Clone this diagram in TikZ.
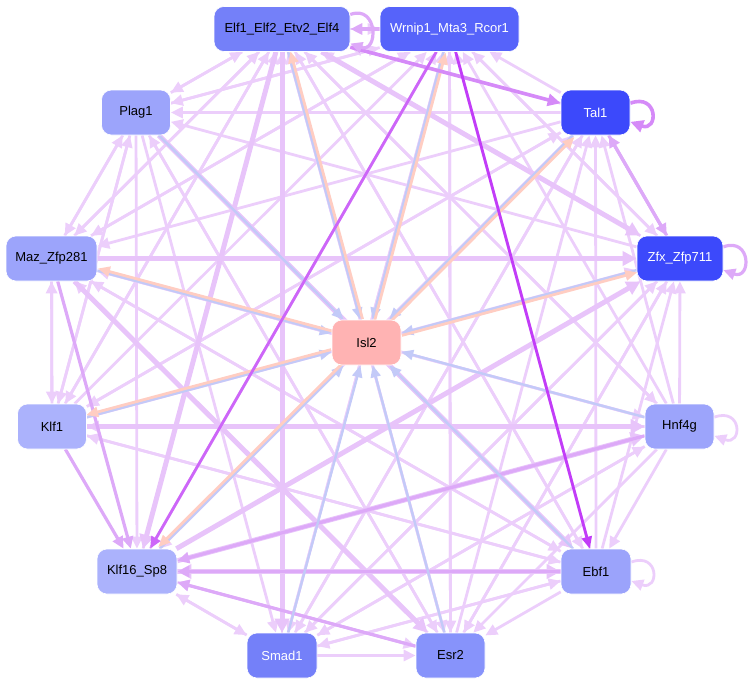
\documentclass[tikz,border=0pt]{standalone}
\usepackage{fontspec}
\setmainfont{Liberation Sans}
\usepackage{xcolor}
\definecolor{geneDeep}{HTML}{3C49FB}
\definecolor{geneDark}{HTML}{5663FA}
\definecolor{geneMid}{HTML}{7480F9}
\definecolor{geneSoft}{HTML}{8793FB}
\definecolor{genePale}{HTML}{9CA4FB}
\definecolor{geneHub}{HTML}{FFB3B3}
\definecolor{linkLite}{HTML}{ECCEFB}
\definecolor{linkWide}{HTML}{E8C4FA}
\definecolor{linkMid}{HTML}{DDA9F8}
\definecolor{linkDeep}{HTML}{D58AF8}
\definecolor{linkStrong}{HTML}{C23CF8}
\definecolor{linkViolet}{HTML}{CD66F8}
\definecolor{linkPeach}{HTML}{FFCDC2}
\definecolor{linkBlue}{HTML}{C3CAF8}
\usetikzlibrary{arrows.meta,positioning,backgrounds}
\tikzset{
    gene/.style={
        rectangle,
        rounded corners=10pt,
        minimum height=45pt,
        minimum width=69pt,
        inner sep=0pt,
        draw=white,
        line width=0.6pt,
        fill=genePale,
        font=\fontsize{13}{15}\selectfont
    },
    dark/.style={text=white},
    lite/.style={
        draw=linkLite,
        line width=2.8pt,
        -{Triangle[length=12pt,width=11pt]}
    },
    wide/.style={
        draw=linkWide,
        line width=5pt,
        -{Triangle[length=14pt,width=14pt]}
    },
    mid/.style={
        draw=linkMid,
        line width=3.2pt,
        -{Triangle[length=12pt,width=11pt]}
    },
    deep/.style={
        draw=linkDeep,
        line width=3.6pt,
        -{Triangle[length=13pt,width=12pt]}
    },
    strong/.style={
        draw=#1,
        line width=2.8pt,
        -{Triangle[length=12pt,width=10pt]}
    },
    peach/.style={
        draw=linkPeach,
        line width=2.8pt,
        -{Triangle[length=12pt,width=10pt]},
        transform canvas={shift={#1}}
    },
    bluish/.style={
        draw=linkBlue,
        line width=2.4pt,
        -{Triangle[length=12pt,width=10pt]}
    }
}

\begin{document}
\begin{tikzpicture}[x=1pt, y=-1pt]
    \useasboundingbox (0,0) rectangle (753,686);

    % genes on the ring
    \node[gene, fill=geneMid, minimum width=136pt] (elf) at (282,29) {Elf1\_Elf2\_Etv2\_Elf4};
    \node[gene, dark, fill=geneDark, minimum width=139pt] (wrn) at (449.5,29) {Wrnip1\_Mta3\_Rcor1};
    \node[gene] (plag) at (136,112.5) {Plag1};
    \node[gene, dark, fill=geneDeep] (tal) at (595.5,112.5) {Tal1};
    \node[gene, minimum width=91pt] (maz) at (51.5,258.5) {Maz\_Zfp281};
    \node[gene, dark, fill=geneDeep, minimum width=86pt] (zfx) at (680,258.5) {Zfx\_Zfp711};
    \node[gene, fill=geneHub] (isl) at (366.5,342.5) {Isl2};
    \node[gene, fill=genePale!85!white] (klf) at (52,426.5) {Klf1};
    \node[gene] (hnf) at (679.5,426.5) {Hnf4g};
    \node[gene, fill=genePale!85!white, minimum width=80pt] (klfsp) at (137,571.5) {Klf16\_Sp8};
    \node[gene, fill=genePale!95!geneSoft, minimum width=70pt] (ebf) at (596,571.5) {Ebf1};
    \node[gene, dark, fill=geneMid, minimum width=70pt] (smad) at (282,655.5) {Smad1};
    \node[gene, fill=geneSoft] (esr) at (450.5,655.5) {Esr2};

    \begin{scope}[on background layer]
    % thin links
    \foreach \dst in {wrn,plag,maz,klf,smad,esr,ebf,hnf}
        \draw[lite] (elf) -- (\dst);
    \foreach \dst in {maz,esr,smad,plag,zfx}
        \draw[lite] (wrn) -- (\dst);
    \foreach \dst in {wrn,elf,plag,klfsp,smad,maz,klf}
        \draw[lite] (tal) -- (\dst);
    \foreach \dst in {elf,wrn,smad,esr,plag}
        \draw[lite] (zfx) -- (\dst);
    \foreach \dst in {zfx,ebf,klf,maz,elf,wrn,tal,esr,smad}
        \draw[lite] (hnf) -- (\dst);
    \foreach \dst in {esr,smad,tal,zfx,wrn,elf,klf,maz}
        \draw[lite] (ebf) -- (\dst);
    \foreach \dst in {tal,zfx,wrn,elf,klfsp,plag,maz}
        \draw[lite] (esr) -- (\dst);
    \foreach \dst in {esr,klfsp,elf,wrn,zfx,tal,ebf,hnf}
        \draw[lite] (smad) -- (\dst);
    \foreach \dst in {smad,esr,tal,elf,wrn}
        \draw[lite] (klfsp) -- (\dst);
    \foreach \dst in {maz,ebf,elf,wrn,plag,tal,zfx}
        \draw[lite] (klf) -- (\dst);
    \foreach \dst in {plag,klf,elf,wrn,hnf,ebf}
        \draw[lite] (maz) -- (\dst);
    \foreach \dst in {elf,wrn,klfsp,esr,maz,klf,smad}
        \draw[lite] (plag) -- (\dst);

    % wide links
    \draw[wide] (elf) -- (zfx);
    \draw[wide] (maz) -- (zfx);
    \draw[wide] (klfsp) -- (hnf);
    \draw[wide] (klfsp) -- (ebf);
    \draw[wide] (ebf) -- (klfsp);
    \draw[wide] (plag) -- (ebf);
    \draw[wide] (klf) -- (hnf);
    \draw[wide] (klfsp) -- (zfx);
    \draw[wide] (maz) -- (esr);
    \draw[wide] (elf) -- (klfsp);
    \draw[wide] (elf) -- (smad);

    % medium links
    \draw[mid] (tal) -- (zfx);
    \draw[mid] (zfx) -- (tal);
    \draw[mid] (maz) -- (klfsp);
    \draw[mid] (klf) -- (klfsp);
    \draw[mid] (hnf) -- (klfsp);
    \draw[mid] (wrn) -- (elf);
    \draw[mid] (ebf) -- (klfsp);
    \draw[mid] (esr) -- (klfsp);

    % hub links
    \foreach \src in {plag,elf,wrn,tal,zfx,maz,klf,hnf,ebf,esr,smad,klfsp}
        \draw[bluish] (\src) -- (isl);
    \draw[peach={(2.2,-0.6)}] (isl) -- (elf);
    \draw[peach={(2.2,0.6)}] (isl) -- (wrn);
    \draw[peach={(1.6,1.6)}] (isl) -- (tal);
    \draw[peach={(0.6,2.2)}] (isl) -- (zfx);
    \draw[peach={(0.6,-2.2)}] (isl) -- (maz);
    \draw[peach={(-0.6,-2.2)}] (isl) -- (klf);
    \draw[peach={(-1.6,-1.6)}] (isl) -- (klfsp);

    % strong links
    \draw[deep] (elf) -- (tal);
    \draw[strong=linkViolet] (wrn) -- (klfsp);
    \draw[strong=linkStrong] (wrn) -- (ebf);

    % self loops
    \draw[mid] (elf.12) .. controls +(20:30pt) and +(-20:30pt) .. (elf.-12);
    \draw[deep] (tal.15) .. controls +(20:30pt) and +(-20:30pt) .. (tal.-15);
    \draw[mid] (zfx.15) .. controls +(20:30pt) and +(-20:30pt) .. (zfx.-15);
    \draw[lite] (hnf.15) .. controls +(20:30pt) and +(-20:30pt) .. (hnf.-15);
    \draw[lite] (ebf.15) .. controls +(20:30pt) and +(-20:30pt) .. (ebf.-15);
    \end{scope}
\end{tikzpicture}
\end{document}
